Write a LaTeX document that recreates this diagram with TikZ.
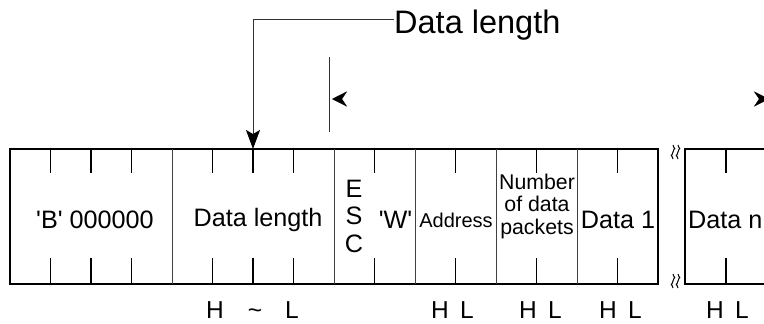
\documentclass[tikz,border=0pt]{standalone}
\usepackage{fontspec}
\newfontfamily\labelfont{Liberation Sans}
\usepackage{tikz}
\usetikzlibrary{arrows.meta, positioning, calc}

\begin{document}
\begin{tikzpicture}[
		x=1pt, y=-1pt,
		frame/.style={line width=2.4pt},
		divider/.style={line width=0.9pt, black!75},
		tick/.style={line width=1.1pt},
		conn/.style={line width=1pt, black!80},
		lab/.style={inner sep=0pt, font=\labelfont\fontsize{25.2}{27.5}\selectfont},
		smalllab/.style={inner sep=0pt, align=center, font=\labelfont\fontsize{21.3}{22.5}\selectfont},
		toplab/.style={inner sep=0pt, font=\labelfont\fontsize{32.5}{35}\selectfont},
		hl/.style={inner sep=0pt, anchor=base, font=\labelfont\fontsize{24.5}{26}\selectfont}
		]
		
		\clip (0,0) rectangle (764,324);
		
		% Frames
		\draw[frame] (10,149) rectangle (658,284);
		\draw[frame] (800,149) -- (685,149) -- (685,284) -- (800,284);
		
		% Field dividers
		\draw[divider] (172,149) -- (172,284) (334,149) -- (334,284)
		(415,149) -- (415,284) (496,149) -- (496,284) (577,149) -- (577,284);
		
		% Byte ticks
		\draw[tick] (50.5,149) -- (50.5,173) (91,149) -- (91,173) (131.5,149) -- (131.5,173)
		(212.5,149) -- (212.5,173) (253,149) -- (253,173) (293.5,149) -- (293.5,173)
		(374.5,149) -- (374.5,173) (455.5,149) -- (455.5,173) (536.5,149) -- (536.5,173)
		(617.5,149) -- (617.5,173) (726,149) -- (726,173);
		\draw[tick] (50.5,258) -- (50.5,284) (91,258) -- (91,284) (131.5,258) -- (131.5,284)
		(212.5,258) -- (212.5,284) (253,258) -- (253,284) (293.5,258) -- (293.5,284)
		(374.5,258) -- (374.5,284) (455.5,258) -- (455.5,284) (536.5,258) -- (536.5,284)
		(617.5,258) -- (617.5,284) (726,258) -- (726,284);
		
		% Break marks
		\draw[line width=1pt] (673,145) sin (674.8,148.5) cos (673,152) sin (671.2,155.5) cos (673,159)
		(678,145) sin (679.8,148.5) cos (678,152) sin (676.2,155.5) cos (678,159);
		\draw[line width=1pt] (673,274) sin (674.8,277.5) cos (673,281) sin (671.2,284.5) cos (673,288)
		(678,274) sin (679.8,277.5) cos (678,281) sin (676.2,284.5) cos (678,288);
		
		% Field labels
		\node[lab] (pre) at (95,220) {'B' 000000};
		\node[lab] (lenfield) at (258,220) {Data length};
		\node[lab, align=center] (esc) at (354,216) {E\\S\\C};
		\node[lab] (wcmd) at (395.5,220) {'W'};
		\node[smalllab, font=\labelfont\fontsize{20}{22}\selectfont] (addr) at (456,220) {Address};
		\node[smalllab] (count) at (537,206) {Number\\of data\\packets};
		\node[lab] (data1) at (618,220) {Data 1};
		\node[lab, anchor=west] (datan) at (688,220) {Data n};
		
		% Byte order
		\node[hl] (h1) at (215,318) {H};
		\node[hl] (t1) at (255,318) {\textasciitilde};
		\node[hl] (l1) at (292,318) {L};
		\node[hl] (h2) at (440,318) {H};
		\node[hl] (l2) at (467,318) {L};
		\node[hl] (h3) at (528,318) {H};
		\node[hl] (l3) at (555,318) {L};
		\node[hl] (h4) at (608,318) {H};
		\node[hl] (l4) at (635,318) {L};
		\node[hl] (h5) at (715,318) {H};
		\node[hl] (l5) at (742,318) {L};
		
		% Data length pointer
		\node[toplab, anchor=base west] (dl) at (394,33) {Data length};
		\coordinate (bend) at (253,19);
		\coordinate (lenhit) at (253,149);
		\draw[conn, -{Stealth[length=19pt, width=14pt, inset=4pt, black]}] (bend -| dl.west) -- (bend) -- (lenhit);
		
		% Counted range
		\draw[conn] (329,57) -- (329,132);
		\coordinate (rangeL) at (332,99);
		\coordinate (rangeR) at (769,99);
		\draw[white, {Stealth[length=15pt, width=15pt, inset=5pt, black]}-{Stealth[length=15pt, width=15pt, inset=5pt, black]}] (rangeL) -- (rangeR);
		
	\end{tikzpicture}
\end{document}
